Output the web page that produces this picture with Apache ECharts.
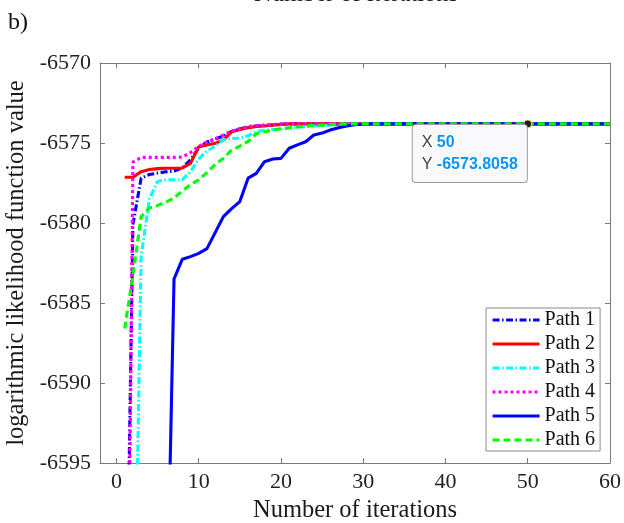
<!DOCTYPE html>
<html>
<head>
<meta charset="utf-8">
<script src="https://cdn.jsdelivr.net/npm/echarts@6/dist/echarts.min.js"></script>
<style>html,body{margin:0;padding:0;background:#fff}#c{width:624px;height:523px}</style>
</head>
<body>
<div id="c"></div>
<script>
const iterations = [1,2,3,4,5,6,7,8,9,10,11,12,13,14,15,16,17,18,19,20,21,22,23,24,25,26,27,28,29,30,
  31,32,33,34,35,36,37,38,39,40,41,42,43,44,45,46,47,48,49,50,51,52,53,54,55,56,57,58,59,60];
const xTicks = [0,10,20,30,40,50,60];
const yTicks = [-6595,-6590,-6585,-6580,-6575,-6570];
const seriesNames = ['Path 1','Path 2','Path 3','Path 4','Path 5','Path 6'];

// values per iteration, first value belongs to the start iteration
const path1Start = 1;
const path1 = [-6613,-6580.1,-6577.2,-6576.97,-6576.88,-6576.8,-6576.75,-6576.56,-6576.06,-6575.3,
  -6574.94,-6574.75,-6574.56,-6574.28,-6574.12,-6574.0,-6573.94,-6573.9,-6573.87,-6573.83,
  -6573.8058,-6573.8058,-6573.8058,-6573.8058,-6573.8058,-6573.8058,-6573.8058,-6573.8058,-6573.8058,-6573.8058,
  -6573.8058,-6573.8058,-6573.8058,-6573.8058,-6573.8058,-6573.8058,-6573.8058,-6573.8058,-6573.8058,-6573.8058,
  -6573.8058,-6573.8058,-6573.8058,-6573.8058,-6573.8058,-6573.8058,-6573.8058,-6573.8058,-6573.8058,-6573.8058,
  -6573.8058,-6573.8058,-6573.8058,-6573.8058,-6573.8058,-6573.8058,-6573.8058,-6573.8058,-6573.8058,-6573.8058];
const path2Start = 1;
const path2 = [-6577.14,-6577.14,-6576.79,-6576.66,-6576.6,-6576.58,-6576.58,-6576.56,-6576.27,-6575.23,
  -6575.12,-6575.02,-6574.81,-6574.29,-6574.16,-6574.04,-6573.97,-6573.94,-6573.88,-6573.84,
  -6573.8058,-6573.8058,-6573.8058,-6573.8058,-6573.8058,-6573.8058,-6573.8058,-6573.8058,-6573.8058,-6573.8058,
  -6573.8058,-6573.8058,-6573.8058,-6573.8058,-6573.8058,-6573.8058,-6573.8058,-6573.8058,-6573.8058,-6573.8058,
  -6573.8058,-6573.8058,-6573.8058,-6573.8058,-6573.8058,-6573.8058,-6573.8058,-6573.8058,-6573.8058,-6573.8058,
  -6573.8058,-6573.8058,-6573.8058,-6573.8058,-6573.8058,-6573.8058,-6573.8058,-6573.8058,-6573.8058,-6573.8058];
const path3Start = 2;
const path3 = [-6612,-6582.1,-6578.5,-6577.4,-6577.3,-6577.3,-6577.3,-6576.8,-6576.0,
  -6575.5,-6575.2,-6574.8,-6574.7,-6574.7,-6574.55,-6574.3,-6574.2,-6574.16,-6574.14,
  -6574.06,-6574.0,-6573.97,-6573.94,-6573.9,-6573.88,-6573.86,-6573.83,-6573.8058,-6573.8058,
  -6573.8058,-6573.8058,-6573.8058,-6573.8058,-6573.8058,-6573.8058,-6573.8058,-6573.8058,-6573.8058,-6573.8058,
  -6573.8058,-6573.8058,-6573.8058,-6573.8058,-6573.8058,-6573.8058,-6573.8058,-6573.8058,-6573.8058,-6573.8058,
  -6573.8058,-6573.8058,-6573.8058,-6573.8058,-6573.8058,-6573.8058,-6573.8058,-6573.8058,-6573.8058];
const path4Start = 1;
const path4 = [-6628,-6576.2,-6575.9,-6575.9,-6575.9,-6575.9,-6575.9,-6575.88,-6575.6,-6575.2,
  -6574.94,-6574.75,-6574.5,-6574.25,-6574.1,-6573.97,-6573.91,-6573.88,-6573.85,-6573.8058,
  -6573.8058,-6573.8058,-6573.8058,-6573.8058,-6573.8058,-6573.8058,-6573.8058,-6573.8058,-6573.8058,-6573.8058,
  -6573.8058,-6573.8058,-6573.8058,-6573.8058,-6573.8058,-6573.8058,-6573.8058,-6573.8058,-6573.8058,-6573.8058,
  -6573.8058,-6573.8058,-6573.8058,-6573.8058,-6573.8058,-6573.8058,-6573.8058,-6573.8058,-6573.8058,-6573.8058,
  -6573.8058,-6573.8058,-6573.8058,-6573.8058,-6573.8058,-6573.8058,-6573.8058,-6573.8058,-6573.8058,-6573.8058];
const path5Start = 6;
const path5 = [-6608,-6583.5,-6582.27,-6582.1,-6581.9,
  -6581.6,-6580.6,-6579.6,-6579.1,-6578.66,-6577.2,-6576.9,-6576.17,-6576.0,-6575.96,
  -6575.33,-6575.12,-6574.92,-6574.5,-6574.38,-6574.19,-6574.04,-6573.94,-6573.86,-6573.83,
  -6573.8058,-6573.8058,-6573.8058,-6573.8058,-6573.8058,-6573.8058,-6573.8058,-6573.8058,-6573.8058,-6573.8058,
  -6573.8058,-6573.8058,-6573.8058,-6573.8058,-6573.8058,-6573.8058,-6573.8058,-6573.8058,-6573.8058,-6573.8058,
  -6573.8058,-6573.8058,-6573.8058,-6573.8058,-6573.8058,-6573.8058,-6573.8058,-6573.8058,-6573.8058,-6573.8058];
const path6Start = 1;
const path6 = [-6586.6,-6583.3,-6579.6,-6579.06,-6578.9,-6578.7,-6578.44,-6578.0,-6577.6,-6577.3,
  -6576.85,-6576.35,-6575.95,-6575.45,-6575.2,-6574.9,-6574.42,-6574.3,-6574.2,-6574.1,
  -6574.05,-6574.0,-6573.94,-6573.9,-6573.88,-6573.85,-6573.82,-6573.8058,-6573.8058,-6573.8058,
  -6573.8058,-6573.8058,-6573.8058,-6573.8058,-6573.8058,-6573.8058,-6573.8058,-6573.8058,-6573.8058,-6573.8058,
  -6573.8058,-6573.8058,-6573.8058,-6573.8058,-6573.8058,-6573.8058,-6573.8058,-6573.8058,-6573.8058,-6573.8058,
  -6573.8058,-6573.8058,-6573.8058,-6573.8058,-6573.8058,-6573.8058,-6573.8058,-6573.8058,-6573.8058,-6573.8058];

const tipX = 50;
const tipY = -6573.8058;

function pairs(start, vals) {
  const i0 = iterations.indexOf(start);
  return vals.map((v, k) => [iterations[i0 + k], v]);
}

const serif = '"Liberation Serif", "Times New Roman", serif';
const axisColor = '#7a7a7a';

const styles = [
  {color: '#0000ff', type: [7, 2.5, 1.5, 2.5]},
  {color: '#ff0000', type: 'solid'},
  {color: '#00ffff', type: [7, 2.5, 1.5, 2.5]},
  {color: '#ff00ff', type: [3, 3]},
  {color: '#0000ff', type: 'solid'},
  {color: '#00ff00', type: [7, 4]}
];
const datasets = [
  pairs(path1Start, path1), pairs(path2Start, path2), pairs(path3Start, path3),
  pairs(path4Start, path4), pairs(path5Start, path5), pairs(path6Start, path6)
];

const series = datasets.map((d, i) => ({
  name: seriesNames[i],
  type: 'line',
  data: d,
  symbol: 'none',
  showSymbol: false,
  clip: true,
  xAxisIndex: 0, yAxisIndex: 0,
  lineStyle: {color: styles[i].color, width: 3.1, type: styles[i].type},
  itemStyle: {color: styles[i].color},
  emphasis: {disabled: true},
  silent: true
}));

series[5].markPoint = {
  symbol: 'circle',
  symbolSize: 8,
  silent: true,
  itemStyle: {color: '#1a1a1a', borderColor: '#e6df86', borderWidth: 1, opacity: 1},
  label: {
    show: true,
    position: [-110.5, 5.5],
    backgroundColor: '#f9f9fc',
    borderColor: '#9c9c9c',
    borderWidth: 1,
    borderRadius: 3,
    padding: [7, 9, 6, 9],
    formatter: '{k|X }{v|' + tipX + '}\n{k|Y }{v|' + tipY + '}',
    rich: {
      k: {fontFamily: 'Liberation Sans', fontSize: 16, color: '#404040', lineHeight: 22},
      v: {fontFamily: 'Liberation Sans', fontSize: 16, color: '#0a96f5', fontWeight: 'bold', lineHeight: 22}
    }
  },
  data: [{coord: [tipX, tipY]}]
};

const chart = echarts.init(document.getElementById('c'), null, {renderer: 'canvas'});

const baseX = {
  type: 'value', min: -2, max: 60,
  axisLine: {show: true, onZero: false, lineStyle: {color: axisColor, width: 1}},
  splitLine: {show: false}
};
const baseY = {
  type: 'value', min: yTicks[0], max: yTicks[yTicks.length - 1], interval: 5,
  axisLine: {show: true, onZero: false, lineStyle: {color: axisColor, width: 1}},
  splitLine: {show: false}
};

chart.setOption({
  animation: false,
  backgroundColor: '#ffffff',
  textStyle: {fontFamily: serif},
  grid: {left: 100, right: 14, top: 63, bottom: 60, containLabel: false, outerBoundsMode: 'none'},
  xAxis: [
    Object.assign({}, baseX, {
      position: 'bottom',
      name: 'Number of iterations',
      nameLocation: 'middle',
      nameGap: 33,
      nameTextStyle: {fontFamily: serif, fontSize: 24.5, color: '#1a1a1a'},
      axisTick: {show: true, inside: true, length: 5, lineStyle: {color: axisColor}, customValues: xTicks},
      axisLabel: {show: true, fontFamily: serif, fontSize: 22, color: '#222', margin: 8, customValues: xTicks,
        formatter: v => String(v)}
    }),
    Object.assign({}, baseX, {
      position: 'top',
      axisTick: {show: true, inside: true, length: 5, lineStyle: {color: axisColor}, customValues: xTicks},
      axisLabel: {show: false}
    })
  ],
  yAxis: [
    Object.assign({}, baseY, {
      position: 'left',
      name: 'logarithmic likelihood function value',
      nameLocation: 'middle',
      nameGap: 66,
      nameTextStyle: {fontFamily: serif, fontSize: 24.5, color: '#1a1a1a'},
      axisTick: {show: true, inside: true, length: 5, lineStyle: {color: axisColor}},
      axisLabel: {show: true, fontFamily: serif, fontSize: 22, color: '#222', margin: 9,
        formatter: v => String(v)}
    }),
    Object.assign({}, baseY, {
      position: 'right',
      axisTick: {show: true, inside: true, length: 5, lineStyle: {color: axisColor}},
      axisLabel: {show: false}
    })
  ],
  legend: {
    show: true,
    orient: 'vertical',
    left: 486,
    top: 308,
    padding: [2, 5, 1, 5],
    backgroundColor: '#ffffff',
    borderColor: '#8a8a8a',
    borderWidth: 1,
    borderRadius: 0,
    itemWidth: 47,
    itemHeight: 14,
    itemGap: 4,
    selectedMode: false,
    itemStyle: {opacity: 0},
    lineStyle: {width: 3.1},
    textStyle: {fontFamily: serif, fontSize: 20, color: '#111', lineHeight: 20},
    data: seriesNames
  },
  graphic: [
    {type: 'text', left: 8, top: 11, style: {text: 'b)', font: '24px "Liberation Serif"', fill: '#111'}},
    {type: 'text', x: 356, y: 7, style: {text: 'Number of iterations', font: '24.5px "Liberation Serif"', fill: '#1a1a1a', textAlign: 'center', textVerticalAlign: 'bottom'}}
  ],
  series: series
});
</script>
</body>
</html>
